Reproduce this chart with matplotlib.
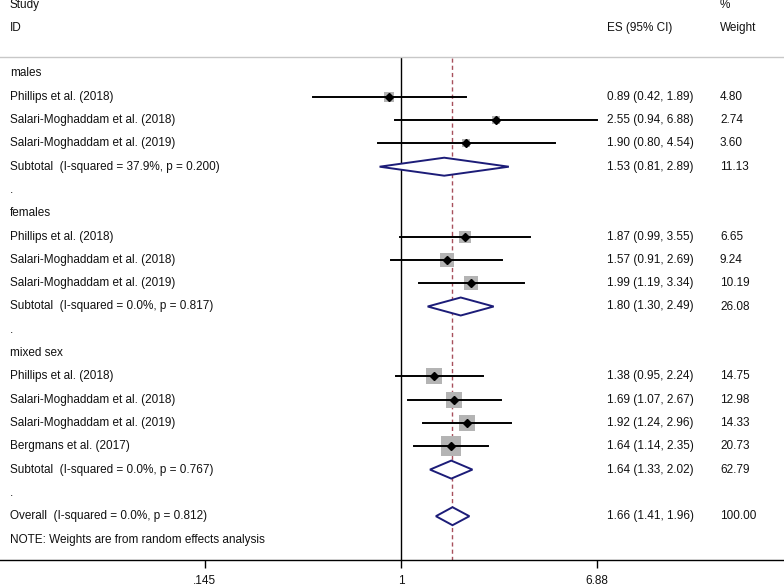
import numpy as np
import matplotlib.pyplot as plt
from matplotlib.patches import Polygon

plt.rcParams['font.family'] = ['Liberation Sans', 'DejaVu Sans']

# data
groups = ['males', 'females', 'mixed sex']
study_group = [0, 0, 0, 1, 1, 1, 2, 2, 2, 2]
study_names = ['Phillips et al. (2018)', 'Salari-Moghaddam et al. (2018)', 'Salari-Moghaddam et al. (2019)',
               'Phillips et al. (2018)', 'Salari-Moghaddam et al. (2018)', 'Salari-Moghaddam et al. (2019)',
               'Phillips et al. (2018)', 'Salari-Moghaddam et al. (2018)', 'Salari-Moghaddam et al. (2019)',
               'Bergmans et al. (2017)']
study_es = [0.89, 2.55, 1.90, 1.87, 1.57, 1.99, 1.38, 1.69, 1.92, 1.64]
study_lo = [0.42, 0.94, 0.80, 0.99, 0.91, 1.19, 0.95, 1.07, 1.24, 1.14]
study_hi = [1.89, 6.88, 4.54, 3.55, 2.69, 3.34, 2.24, 2.67, 2.96, 2.35]
study_wt = [4.80, 2.74, 3.60, 6.65, 9.24, 10.19, 14.75, 12.98, 14.33, 20.73]

sub_labels = ['Subtotal  (I-squared = 37.9%, p = 0.200)',
              'Subtotal  (I-squared = 0.0%, p = 0.817)',
              'Subtotal  (I-squared = 0.0%, p = 0.767)']
sub_es = [1.53, 1.80, 1.64]
sub_lo = [0.81, 1.30, 1.33]
sub_hi = [2.89, 2.49, 2.02]
sub_wt = [11.13, 26.08, 62.79]

overall_label = 'Overall  (I-squared = 0.0%, p = 0.812)'
overall_es, overall_lo, overall_hi, overall_wt = 1.66, 1.41, 1.96, 100.00

tick_vals = [0.145, 1, 6.88]
tick_labels = ['.145', '1', '6.88']

W, H = 784, 586
fig = plt.figure(figsize=(W / 100, H / 100), dpi=100)
ax = fig.add_axes([0, 0, 1, 1])
ax.set_xscale('log')
ppu = 101.6  # pixels per log unit
x0 = 401
ax.set_xlim(np.exp(-x0 / ppu), np.exp((W - x0) / ppu))
ax.set_ylim(H, 0)

fs = 8.5
tc = '#111111'
tx = ax.get_yaxis_transform()  # x in axes fraction, y in data
def col(px):
    return px / W

def put(px, y, s):
    ax.text(col(px), y, s, transform=tx, fontsize=fs, va='center', color=tc)

navy = '#1c1c78'
row0, dy = 73.5, 23.3


def ci_text(es, lo, hi):
    return '%.2f (%.2f, %.2f)' % (es, lo, hi)


def diamond(y, es, lo, hi):
    ax.add_patch(Polygon([(lo, y), (es, y - 9), (hi, y), (es, y + 9)], closed=True,
                         facecolor='white', edgecolor=navy, lw=1.4, zorder=3))


row = 0
for g, gname in enumerate(groups):
    put(10, row0 + dy * row, gname)
    row += 1
    for i in range(len(study_names)):
        if study_group[i] != g:
            continue
        y = row0 + dy * row
        put(10, y, study_names[i])
        side = 4.4 * np.sqrt(study_wt[i]) / 1.389
        ax.scatter([study_es[i]], [y], marker='s', s=side ** 2, color='#b4b4b4', lw=0, zorder=2)
        ax.plot([study_lo[i], study_hi[i]], [y, y], color='black', lw=1.4, zorder=3)
        ax.plot([study_es[i]], [y], marker='D', ms=4.2, color='black', zorder=4)
        put(607, y, ci_text(study_es[i], study_lo[i], study_hi[i]))
        put(720, y, '%.2f' % study_wt[i])
        row += 1
    y = row0 + dy * row
    put(10, y, sub_labels[g])
    diamond(y, sub_es[g], sub_lo[g], sub_hi[g])
    put(607, y, ci_text(sub_es[g], sub_lo[g], sub_hi[g]))
    put(720, y, '%.2f' % sub_wt[g])
    row += 1
    put(10, row0 + dy * row, '.')
    row += 1

y = row0 + dy * row
put(10, y, overall_label)
diamond(y, overall_es, overall_lo, overall_hi)
put(607, y, ci_text(overall_es, overall_lo, overall_hi))
put(720, y, '%.2f' % overall_wt)
row += 1
put(10, row0 + dy * row, 'NOTE: Weights are from random effects analysis')

# header
put(10, 5, 'Study')
put(10, 28, 'ID')
put(607, 28, 'ES (95% CI)')
put(720, 5, '%')
put(720, 28, 'Weight')
ax.axhline(57, color='#c8c8c8', lw=1)

# reference lines
axis_y = 560
ax.vlines(1, 57, axis_y, color='black', lw=1, zorder=1)
ax.vlines(overall_es, 58, axis_y, color='#a8505c', lw=1, linestyles=(0, (3, 2.2)), zorder=1)

# x axis
for s in ['top', 'left', 'right']:
    ax.spines[s].set_visible(False)
ax.spines['bottom'].set_position(('data', axis_y))
ax.spines['bottom'].set_linewidth(1)
ax.set_xticks(tick_vals)
ax.set_xticklabels(tick_labels, fontsize=fs, color=tc)
ax.minorticks_off()
ax.tick_params(axis='x', direction='out', length=6, width=1, pad=5)
ax.set_yticks([])

fig.savefig('out.png', dpi=100)
